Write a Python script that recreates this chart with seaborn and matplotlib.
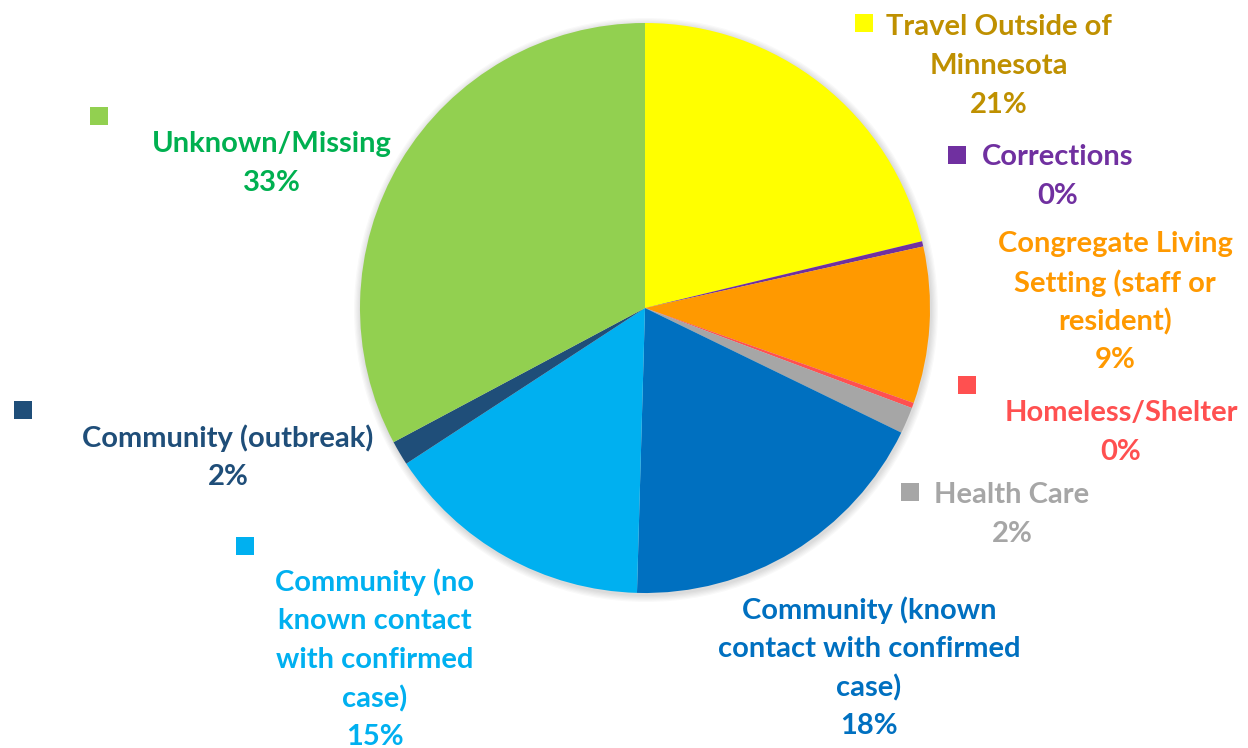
import matplotlib
matplotlib.use("Agg")
import matplotlib.pyplot as plt
import seaborn as sns
from matplotlib.patches import Circle

sns.set_theme(style="white")
plt.rcParams['font.family'] = ['Lato', 'DejaVu Sans']

# slices clockwise from 12 o'clock
labels = ["Travel Outside of\nMinnesota", "Corrections", "Congregate Living\nSetting (staff or\nresident)",
          "Homeless/Shelter", "Health Care", "Community (known\ncontact with confirmed\ncase)",
          "Community (no\nknown contact\nwith confirmed\ncase)", "Community (outbreak)", "Unknown/Missing"]
values = [21.3, 0.3, 8.9, 0.3, 1.5, 18.3, 15.4, 1.4, 32.9]
pct_text = ["21%", "0%", "9%", "0%", "2%", "18%", "15%", "2%", "33%"]
slice_colors = ["#FFFF00", "#7030A0", "#FF9900", "#FF5050", "#A6A6A6",
                "#0070C0", "#00B0F0", "#1F4E79", "#92D050"]
text_colors = ["#BF9000", "#7030A0", "#FF9900", "#FF5050", "#A6A6A6",
               "#0070C0", "#00B0F0", "#1F4E79", "#00B050"]

# label layout in pixel space (y from top): key square, text center x, first line y
key_pos = [(864, 23), (957, 155), None, (967, 385), (910, 492), None, (245, 546), (23, 410), (99, 116)]
text_pos = [(999, 25), (1058, 155), (1115, 242), (1121, 411), (1012, 493), (869, 608), (375, 580), (228, 436), (272, 142)]

W, H = 1248, 748
fig = plt.figure(figsize=(W / 100, H / 100), dpi=100)
ax = fig.add_axes([0, 0, 1, 1])

cx, cy, r = 645, H - 308, 285

# soft shadow
for k in range(6):
    ax.add_patch(Circle((cx + 1, cy - 2), r + 1 + k * 1.2, color="black", alpha=0.025, lw=0, zorder=0))

palette = sns.color_palette(slice_colors)
ax.pie(values, colors=palette, startangle=90, counterclock=False,
       center=(cx, cy), radius=r, wedgeprops=dict(linewidth=0), frame=True)
ax.set_xlim(0, W)
ax.set_ylim(0, H)
ax.set_aspect("equal")
ax.axis("off")

line_h = 38.8
for i, lab in enumerate(labels):
    lines = lab.split("\n") + [pct_text[i]]
    tx, ty = text_pos[i]
    for j, ln in enumerate(lines):
        ax.text(tx, H - (ty + 2 + j * line_h), ln, ha="center", va="center",
                fontsize=21, fontweight="bold", color=text_colors[i])
    if key_pos[i] is not None:
        kx, ky = key_pos[i]
        ax.scatter([kx], [H - ky], marker="s", s=160, color=slice_colors[i], linewidths=0)

fig.savefig("out.png", dpi=100)
